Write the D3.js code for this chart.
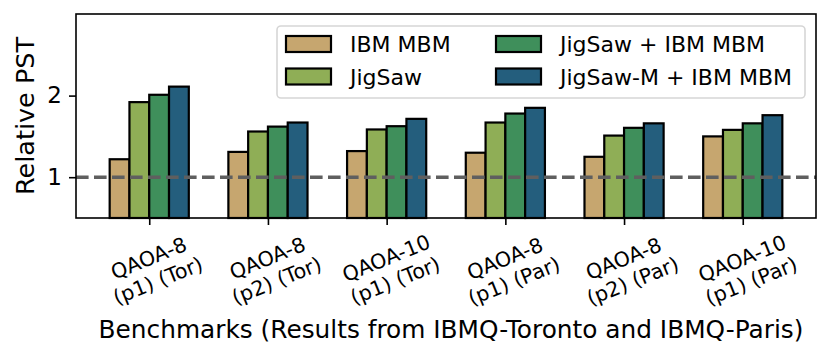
<!DOCTYPE html>
<html>
<head>
<meta charset="utf-8">
<script src="https://cdn.jsdelivr.net/npm/d3@7"></script>
<style>
  body { margin: 0; background: #fff; }
  text { font-family: "DejaVu Sans", sans-serif; fill: #000; }
</style>
</head>
<body>
<div id="chart"></div>
<script>
// data
const benchmarks = [
  ["QAOA-8", "(p1) (Tor)"],
  ["QAOA-8", "(p2) (Tor)"],
  ["QAOA-10", "(p1) (Tor)"],
  ["QAOA-8", "(p1) (Par)"],
  ["QAOA-8", "(p2) (Par)"],
  ["QAOA-10", "(p1) (Par)"]
];
const seriesNames = ["IBM MBM", "JigSaw", "JigSaw + IBM MBM", "JigSaw-M + IBM MBM"];
const ibmMbm = [1.22, 1.31, 1.32, 1.30, 1.25, 1.50];
const jigsaw = [1.92, 1.56, 1.585, 1.67, 1.51, 1.58];
const jigsawMbm = [2.01, 1.62, 1.625, 1.78, 1.605, 1.66];
const jigsawMMbm = [2.11, 1.67, 1.715, 1.85, 1.66, 1.76];
const yTicks = [1, 2];
const colors = ["#c6a66f", "#8fae56", "#3f8f5b", "#245e7d"];

const series = [ibmMbm, jigsaw, jigsawMbm, jigsawMMbm];

const W = 831, H = 359;
const margin = { top: 14, right: 15, bottom: 141, left: 76 };
const gw = W - margin.left - margin.right;
const gh = H - margin.top - margin.bottom;

const svg = d3.select("#chart").append("svg")
  .attr("width", W).attr("height", H);

const graph = svg.append("g")
  .attr("transform", `translate(${margin.left}, ${margin.top})`);

const barW = 1 / 6;
const x = d3.scaleLinear().domain([-0.617, benchmarks.length - 1 + 0.617]).range([0, gw]);
const y = d3.scaleLinear().domain([0.5, 3.0]).range([gh, 0]);

// bars
series.forEach((vals, s) => {
  graph.append("g").selectAll("rect")
    .data(vals)
    .enter()
    .append("rect")
    .attr("x", (d, i) => x(i + (s - 2) * barW))
    .attr("width", x(barW) - x(0))
    .attr("y", d => y(d))
    .attr("height", d => y(0.5) - y(d))
    .attr("fill", colors[s])
    .attr("stroke", "#000")
    .attr("stroke-width", 2.2);
});

// dashed reference line
graph.append("line")
  .attr("x1", 0).attr("x2", gw)
  .attr("y1", y(1)).attr("y2", y(1))
  .attr("stroke", "#5f5f5f")
  .attr("stroke-width", 3.4)
  .attr("stroke-dasharray", "12.6,5.4");

// frame
graph.append("rect")
  .attr("width", gw).attr("height", gh)
  .attr("fill", "none").attr("stroke", "#000").attr("stroke-width", 1.6);

// y axis
const yAxis = d3.axisLeft(y).tickValues(yTicks).tickFormat(d3.format("d"))
  .tickSize(7).tickPadding(7);
const yg = graph.append("g").call(yAxis);
yg.select(".domain").remove();
yg.selectAll("line").attr("stroke-width", 1.6);
yg.selectAll("text").style("font-size", "23px").attr("font-family", "DejaVu Sans");

// x axis
const xAxis = d3.axisBottom(x).tickValues(d3.range(benchmarks.length))
  .tickSize(7).tickFormat("");
const xg = graph.append("g").attr("transform", `translate(0, ${gh})`).call(xAxis);
xg.select(".domain").remove();
xg.selectAll("line").attr("stroke-width", 1.6);

// rotated two-line tick labels, centred bbox under the tick
const fs = 20.5, lh = fs * 1.18, rot = 22, ang = rot * Math.PI / 180;
benchmarks.forEach((lines, i) => {
  const g = graph.append("g");
  const t = g.append("text").style("font-size", fs + "px").attr("text-anchor", "middle");
  lines.forEach((ln, k) => {
    t.append("tspan").attr("x", 0).attr("y", (k - 0.5) * lh + fs * 0.36).text(ln);
  });
  const w = d3.max(t.selectAll("tspan").nodes(), n => n.getComputedTextLength());
  const bh = w * Math.sin(ang) + 2 * lh * Math.cos(ang);
  const top = gh + 7 + 4;
  g.attr("transform", `translate(${x(i) + 4}, ${top + bh / 2}) rotate(${-rot})`);
});

// axis titles
svg.append("text")
  .attr("transform", `translate(${34}, ${margin.top + gh / 2}) rotate(-90)`)
  .attr("text-anchor", "middle")
  .style("font-size", "25.5px")
  .text("Relative PST");

svg.append("text")
  .attr("x", 451)
  .attr("y", 338)
  .attr("text-anchor", "middle")
  .style("font-size", "24.8px")
  .text("Benchmarks (Results from IBMQ-Toronto and IBMQ-Paris)");

// legend
const legend = svg.append("g");
legend.append("rect")
  .attr("x", 277).attr("y", 26).attr("width", 528).attr("height", 72)
  .attr("rx", 4)
  .attr("fill", "#fff").attr("fill-opacity", 0.8)
  .attr("stroke", "#d6d6d6").attr("stroke-width", 1.6);
const colX = [286, 496];
const rowY = [44, 76.5];
seriesNames.forEach((name, s) => {
  const cx = colX[Math.floor(s / 2)], cy = rowY[s % 2];
  legend.append("rect")
    .attr("x", cx).attr("y", cy - 8).attr("width", 45).attr("height", 16)
    .attr("fill", colors[s]).attr("stroke", "#000").attr("stroke-width", 2.2);
  legend.append("text")
    .attr("x", cx + 64).attr("y", cy + 8)
    .style("font-size", "22px")
    .text(name);
});
</script>
</body>
</html>
